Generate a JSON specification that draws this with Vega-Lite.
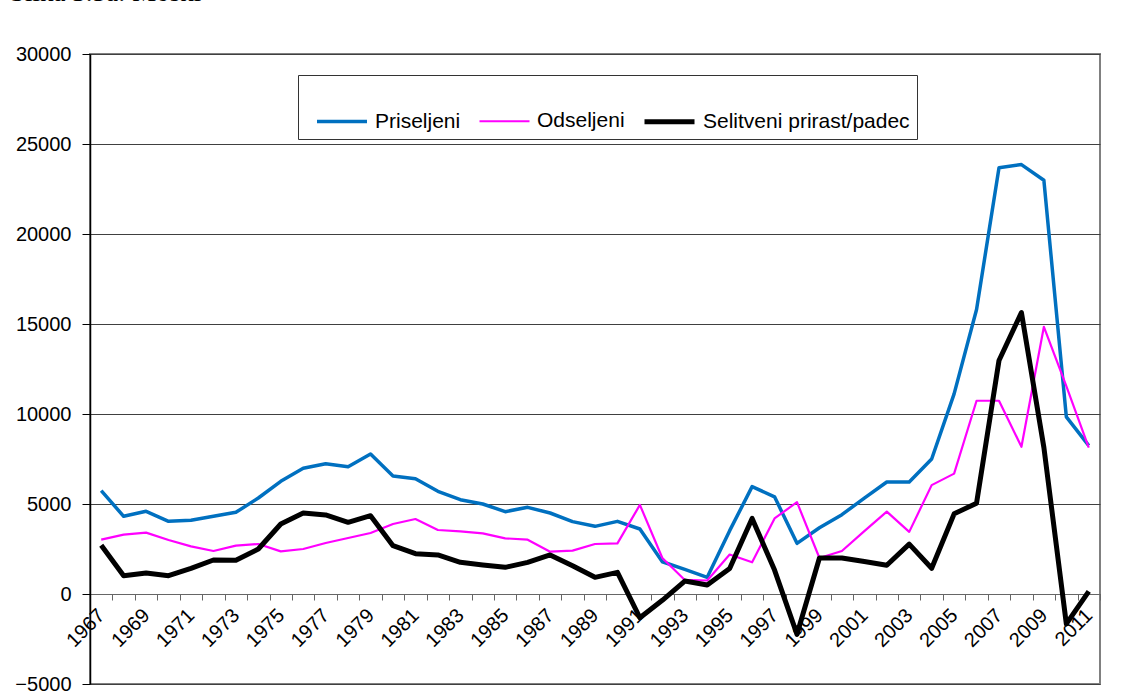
{
  "$schema": "https://vega.github.io/schema/vega-lite/v6.json",
  "width": 1010,
  "height": 630,
  "autosize": {"type": "none"},
  "padding": {"left": 90, "top": 54, "right": 41, "bottom": 16},
  "background": "white",
  "title": {
    "text": "Slika 3.5a: Moški",
    "anchor": "start",
    "frame": "group",
    "dx": -80,
    "offset": 16,
    "baseline": "alphabetic",
    "font": "Liberation Serif",
    "fontSize": 27,
    "fontWeight": "normal",
    "color": "black"
  },
  "data": {
    "values": [
      {"year": 1967, "Priseljeni": 5741, "Odseljeni": 3019, "Selitveni prirast/padec": 2704},
      {"year": 1968, "Priseljeni": 4315, "Odseljeni": 3296, "Selitveni prirast/padec": 1019},
      {"year": 1969, "Priseljeni": 4593, "Odseljeni": 3408, "Selitveni prirast/padec": 1167},
      {"year": 1970, "Priseljeni": 4037, "Odseljeni": 3000, "Selitveni prirast/padec": 1019},
      {"year": 1971, "Priseljeni": 4093, "Odseljeni": 2648, "Selitveni prirast/padec": 1426},
      {"year": 1972, "Priseljeni": 4315, "Odseljeni": 2389, "Selitveni prirast/padec": 1889},
      {"year": 1973, "Priseljeni": 4537, "Odseljeni": 2685, "Selitveni prirast/padec": 1870},
      {"year": 1974, "Priseljeni": 5333, "Odseljeni": 2778, "Selitveni prirast/padec": 2500},
      {"year": 1975, "Priseljeni": 6260, "Odseljeni": 2370, "Selitveni prirast/padec": 3889},
      {"year": 1976, "Priseljeni": 6982, "Odseljeni": 2500, "Selitveni prirast/padec": 4500},
      {"year": 1977, "Priseljeni": 7241, "Odseljeni": 2833, "Selitveni prirast/padec": 4389},
      {"year": 1978, "Priseljeni": 7075, "Odseljeni": 3111, "Selitveni prirast/padec": 3982},
      {"year": 1979, "Priseljeni": 7778, "Odseljeni": 3389, "Selitveni prirast/padec": 4352},
      {"year": 1980, "Priseljeni": 6556, "Odseljeni": 3889, "Selitveni prirast/padec": 2685},
      {"year": 1981, "Priseljeni": 6408, "Odseljeni": 4167, "Selitveni prirast/padec": 2241},
      {"year": 1982, "Priseljeni": 5704, "Odseljeni": 3556, "Selitveni prirast/padec": 2167},
      {"year": 1983, "Priseljeni": 5241, "Odseljeni": 3482, "Selitveni prirast/padec": 1759},
      {"year": 1984, "Priseljeni": 5000, "Odseljeni": 3370, "Selitveni prirast/padec": 1611},
      {"year": 1985, "Priseljeni": 4574, "Odseljeni": 3093, "Selitveni prirast/padec": 1482},
      {"year": 1986, "Priseljeni": 4815, "Odseljeni": 3019, "Selitveni prirast/padec": 1759},
      {"year": 1987, "Priseljeni": 4500, "Odseljeni": 2352, "Selitveni prirast/padec": 2167},
      {"year": 1988, "Priseljeni": 4019, "Odseljeni": 2407, "Selitveni prirast/padec": 1574},
      {"year": 1989, "Priseljeni": 3759, "Odseljeni": 2778, "Selitveni prirast/padec": 926},
      {"year": 1990, "Priseljeni": 4037, "Odseljeni": 2815, "Selitveni prirast/padec": 1204},
      {"year": 1991, "Priseljeni": 3611, "Odseljeni": 4950, "Selitveni prirast/padec": -1320},
      {"year": 1992, "Priseljeni": 1790, "Odseljeni": 2000, "Selitveni prirast/padec": -350},
      {"year": 1993, "Priseljeni": 1370, "Odseljeni": 780, "Selitveni prirast/padec": 720},
      {"year": 1994, "Priseljeni": 926, "Odseljeni": 750, "Selitveni prirast/padec": 500},
      {"year": 1995, "Priseljeni": 3519, "Odseljeni": 2190, "Selitveni prirast/padec": 1420},
      {"year": 1996, "Priseljeni": 5963, "Odseljeni": 1760, "Selitveni prirast/padec": 4200},
      {"year": 1997, "Priseljeni": 5400, "Odseljeni": 4200, "Selitveni prirast/padec": 1330},
      {"year": 1998, "Priseljeni": 2815, "Odseljeni": 5100, "Selitveni prirast/padec": -2240},
      {"year": 1999, "Priseljeni": 3680, "Odseljeni": 2000, "Selitveni prirast/padec": 2000},
      {"year": 2000, "Priseljeni": 4409, "Odseljeni": 2386, "Selitveni prirast/padec": 2002},
      {"year": 2001, "Priseljeni": 5325, "Odseljeni": 3493, "Selitveni prirast/padec": 1810},
      {"year": 2002, "Priseljeni": 6220, "Odseljeni": 4580, "Selitveni prirast/padec": 1598},
      {"year": 2003, "Priseljeni": 6220, "Odseljeni": 3451, "Selitveni prirast/padec": 2769},
      {"year": 2004, "Priseljeni": 7498, "Odseljeni": 6049, "Selitveni prirast/padec": 1427},
      {"year": 2005, "Priseljeni": 11119, "Odseljeni": 6688, "Selitveni prirast/padec": 4452},
      {"year": 2006, "Priseljeni": 15805, "Odseljeni": 10735, "Selitveni prirast/padec": 5048},
      {"year": 2007, "Priseljeni": 23686, "Odseljeni": 10735, "Selitveni prirast/padec": 12972},
      {"year": 2008, "Priseljeni": 23856, "Odseljeni": 8179, "Selitveni prirast/padec": 15634},
      {"year": 2009, "Priseljeni": 22983, "Odseljeni": 14846, "Selitveni prirast/padec": 8137},
      {"year": 2010, "Priseljeni": 9841, "Odseljeni": 11545, "Selitveni prirast/padec": -1661},
      {"year": 2011, "Priseljeni": 8243, "Odseljeni": 8137, "Selitveni prirast/padec": 149}
    ]
  },
  "transform": [
    {"fold": ["Priseljeni", "Odseljeni", "Selitveni prirast/padec"], "as": ["series", "value"]}
  ],
  "mark": {"type": "line", "strokeJoin": "round"},
  "encoding": {
    "x": {
      "field": "year",
      "type": "ordinal",
      "scale": {"paddingInner": 0, "paddingOuter": 0},
      "axis": {
        "title": null,
        "orient": "bottom",
        "offset": -90,
        "tickBand": "extent",
        "labelAngle": -45,
        "labelAlign": "right",
        "labelBaseline": "middle",
        "labelExpr": "datum.value % 2 == 1 ? datum.label : ''",
        "labelOverlap": false,
        "labelFont": "Liberation Sans",
        "labelFontSize": 20,
        "labelColor": "black",
        "labelPadding": 12,
        "tickSize": 6,
        "tickColor": "#666666",
        "domainColor": "#666666",
        "domainWidth": 1,
        "grid": false
      }
    },
    "y": {
      "field": "value",
      "type": "quantitative",
      "scale": {"domain": [-5000, 30000], "nice": false, "zero": false},
      "axis": {
        "title": null,
        "values": [-5000, 0, 5000, 10000, 15000, 20000, 25000, 30000],
        "format": "d",
        "labelFont": "Liberation Sans",
        "labelFontSize": 20,
        "labelColor": "black",
        "labelPadding": 11,
        "tickSize": 8,
        "tickColor": "black",
        "domainColor": "black",
        "domainWidth": 1.5,
        "grid": true,
        "gridColor": "#404040",
        "gridWidth": 1
      }
    },
    "color": {
      "field": "series",
      "type": "nominal",
      "scale": {
        "domain": ["Priseljeni", "Odseljeni", "Selitveni prirast/padec"],
        "range": ["#0070C0", "#FF00FF", "#000000"]
      },
      "legend": {"title": " "}
    },
    "strokeWidth": {
      "field": "series",
      "type": "nominal",
      "scale": {
        "type": "ordinal",
        "domain": ["Priseljeni", "Odseljeni", "Selitveni prirast/padec"],
        "range": [3.5, 2.2, 5]
      },
      "legend": {"title": " "}
    }
  },
  "config": {
    "view": {"stroke": "#808080", "strokeWidth": 2},
    "legend": {
      "orient": "none",
      "legendX": 208,
      "legendY": 21,
      "direction": "horizontal",
      "fillColor": "white",
      "strokeColor": "#333333",
      "strokeWidth": 1,
      "padding": 7,
      "symbolOffset": 10,
      "symbolType": "stroke",
      "symbolSize": 2500,
      "labelFont": "Liberation Sans",
      "labelFontSize": 21,
      "labelColor": "black",
      "labelOffset": 6,
      "labelLimit": 400,
      "columnPadding": 7,
      "titleFontSize": 8,
      "titlePadding": 4
    }
  }
}
